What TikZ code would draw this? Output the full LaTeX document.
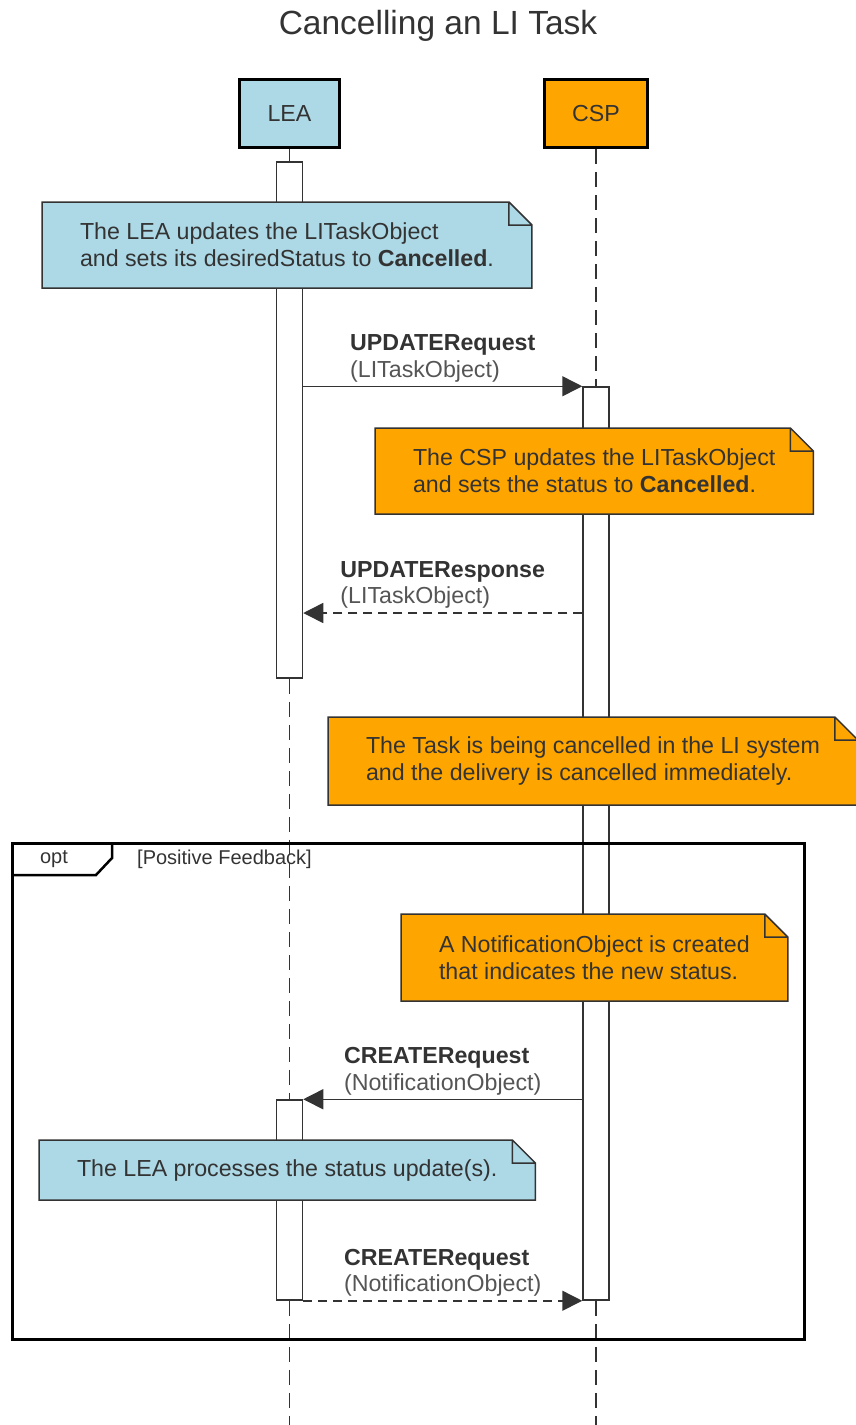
\documentclass[tikz,border=0pt]{standalone}
\usepackage{fontspec}
\setmainfont{Liberation Sans}
\usetikzlibrary{arrows.meta,backgrounds}
\definecolor{leablue}{HTML}{ADD8E6}
\definecolor{csporange}{HTML}{FFA500}
\definecolor{ink}{HTML}{333333}
\definecolor{paren}{HTML}{555555}
\begin{document}
\begin{tikzpicture}[x=1pt,y=-1pt,
    every node/.style={text=ink},
    actor/.style={draw=black,line width=3.5pt,minimum width=100pt,minimum height=68pt,font=\fontsize{23.2}{27}\selectfont},
    act/.style={draw=ink,fill=white,line width=1.5pt,minimum width=26pt,inner sep=0pt},
    life/.style={draw=ink,line width=1.5pt,dash pattern=on 15pt off 8pt},
    notetext/.style={anchor=north west,align=left,inner xsep=38pt,inner ysep=0pt,outer sep=0pt,font=\fontsize{23.2}{27}\selectfont},
    notebox/.style={draw=ink,line width=1.5pt,line join=miter},
    call/.style={draw=ink,line width=1.5pt,-{Triangle[length=20pt,width=20pt]}},
    reply/.style={call,dash pattern=on 9pt off 6pt},
    msglabel/.style={midway,above=1.5pt,inner sep=2pt,align=left,font=\fontsize{23.2}{26.5}\selectfont}]
  \useasboundingbox (0,0) rectangle (856,1425);

  \node[font=\fontsize{33.5}{40}\selectfont] (title) at (438,26) {Cancelling an LI Task};
  \node[actor,fill=leablue] (lea) at (289.5,113.5) {LEA};
  \node[actor,fill=csporange,minimum width=103pt] (csp) at (596,113.5) {CSP};
  \coordinate (leaEnd) at (289.5,1425);
  \coordinate (cspEnd) at (596,1425);
  \coordinate (replyRow) at (0,613);

  \begin{scope}[on background layer]
    \node[act,minimum height=516pt] (leaAct) at (289.5,420) {};
    \node[act,minimum height=913pt] (cspAct) at (596,843.5) {};
    \node[act,minimum height=200pt] (leaAct2) at (289.5,1200) {};
    \draw[draw=ink,line width=1.5pt] (lea.south) -- (leaAct.north);
    \draw[life] (leaAct.south) -- (leaAct2.north);
    \draw[life] (leaAct2.south) -- (leaEnd);
    \draw[life] (csp.south) -- (cspAct.north);
    \draw[life] (cspAct.south) -- (cspEnd);
  \end{scope}

  \node[notetext,minimum height=86pt] (noteLea) at (42,202)
    {The LEA updates the LITaskObject\\and sets its desiredStatus to \textbf{Cancelled}.};
  \node[notetext,minimum height=86pt] (noteCsp) at (375,428)
    {The CSP updates the LITaskObject\\and sets the status to \textbf{Cancelled}.};
  \node[notetext,minimum height=88pt] (noteTask) at (328,717)
    {The Task is being cancelled in the LI system\\and the delivery is cancelled immediately.};
  \node[notetext,minimum height=87pt] (noteNotify) at (401,914)
    {A NotificationObject is created\\that indicates the new status.};
  \node[notetext,minimum height=60pt] (noteProcess) at (39,1140)
    {The LEA processes the status update(s).};

  \begin{scope}[on background layer]
    \filldraw[notebox,fill=leablue] (noteLea.north west) -- ([xshift=-23pt]noteLea.north east) -- ([yshift=-23pt]noteLea.north east) -- (noteLea.south east) -- (noteLea.south west) -- cycle
      ([yshift=-23pt]noteLea.north east) -| ([xshift=-23pt]noteLea.north east);
    \filldraw[notebox,fill=csporange] (noteCsp.north west) -- ([xshift=-23pt]noteCsp.north east) -- ([yshift=-23pt]noteCsp.north east) -- (noteCsp.south east) -- (noteCsp.south west) -- cycle
      ([yshift=-23pt]noteCsp.north east) -| ([xshift=-23pt]noteCsp.north east);
    \filldraw[notebox,fill=csporange] (noteTask.north west) -- ([xshift=-23pt]noteTask.north east) -- ([yshift=-23pt]noteTask.north east) -- (noteTask.south east) -- (noteTask.south west) -- cycle
      ([yshift=-23pt]noteTask.north east) -| ([xshift=-23pt]noteTask.north east);
    \filldraw[notebox,fill=csporange] (noteNotify.north west) -- ([xshift=-23pt]noteNotify.north east) -- ([yshift=-23pt]noteNotify.north east) -- (noteNotify.south east) -- (noteNotify.south west) -- cycle
      ([yshift=-23pt]noteNotify.north east) -| ([xshift=-23pt]noteNotify.north east);
    \filldraw[notebox,fill=leablue] (noteProcess.north west) -- ([xshift=-23pt]noteProcess.north east) -- ([yshift=-23pt]noteProcess.north east) -- (noteProcess.south east) -- (noteProcess.south west) -- cycle
      ([yshift=-23pt]noteProcess.north east) -| ([xshift=-23pt]noteProcess.north east);
  \end{scope}

  \draw[call] (leaAct.east |- cspAct.north) -- node[msglabel] {\textbf{UPDATERequest}\\\textcolor{paren}{(LITaskObject)}} (cspAct.north west);
  \draw[reply] (cspAct.west |- replyRow) -- node[msglabel] {\textbf{UPDATEResponse}\\\textcolor{paren}{(LITaskObject)}} (leaAct.east |- replyRow);
  \draw[call] (cspAct.west |- leaAct2.north) -- node[msglabel] {\textbf{CREATERequest}\\\textcolor{paren}{(NotificationObject)}} (leaAct2.north east);
  \draw[reply] (leaAct2.south east) -- node[msglabel] {\textbf{CREATERequest}\\\textcolor{paren}{(NotificationObject)}} (cspAct.west |- leaAct2.south);

  \node[draw=black,line width=3pt,outer sep=0pt,minimum width=792pt,minimum height=496pt] (optFrame) at (408,1091) {};
  \draw[line width=2.5pt,line join=miter] ([xshift=100pt]optFrame.north west) -- ++(0,15) -- ++(-16,17) -- ++(-84,0);
  \node[font=\fontsize{20}{24}\selectfont] (optLabel) at (54,859) {opt};
  \node[anchor=west,inner sep=0pt,font=\fontsize{20}{24}\selectfont] (guardLabel) at (137,859) {[Positive Feedback]};
\end{tikzpicture}
\end{document}
